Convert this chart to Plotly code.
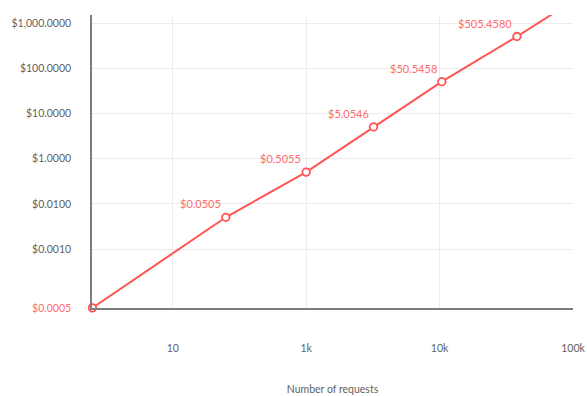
import math
import plotly.graph_objects as go

# Cost of a request volume (log-log), with priced checkpoints
requests = [25, 250, 1000, 3200, 10400, 38000]
cost = [0.0005, 0.0505, 0.5055, 5.0546, 50.5458, 505.4580]
cost_labels = ["$0.0505", "$0.5055", "$5.0546", "$50.5458", "$505.4580"]

# The cost curve keeps rising past the last checkpoint
tail_requests = [38000, 130000]
tail_cost = [505.4580, 5054.58]

x_tickvals = [100, 1000, 10000, 100000]
x_ticktext = ["10", "1k", "10k", "100k"]
y_tickvals = [0.0005, 0.01, 0.1, 1, 10, 100, 1000]
y_ticktext = ["$0.0005", "$0.0010", "$0.0100", "$1.0000",
              "$10.0000", "$100.0000", "$1,000.0000"]

RED = "#ff5450"
RED_TEXT = "#ff6b6b"
GREY_TEXT = "#5f5f5f"
FONT = "Lato, 'Open Sans', sans-serif"

fig = go.Figure()

fig.add_trace(go.Scatter(
    x=tail_requests, y=tail_cost, mode="lines",
    line=dict(color=RED, width=2), hoverinfo="skip", showlegend=False,
))
fig.add_trace(go.Scatter(
    x=requests, y=cost, mode="lines+markers",
    line=dict(color=RED, width=2),
    marker=dict(size=7.5, color="white", line=dict(color=RED, width=1.8)),
    cliponaxis=False, showlegend=False,
))

for xv, yv, txt in zip(requests[1:], cost[1:], cost_labels):
    fig.add_annotation(
        x=math.log10(xv), y=math.log10(yv), text=txt, showarrow=False,
        xanchor="right", yanchor="bottom", xshift=-3, yshift=5,
        font=dict(family=FONT, size=11, color=RED_TEXT),
    )

# the starting price is highlighted on the value axis
y_text = [f'<span style="color:{RED_TEXT}">{t}</span>' if v == cost[0] else t
          for v, t in zip(y_tickvals, y_ticktext)]

fig.update_layout(
    width=587, height=396, autosize=False,
    margin=dict(l=92, r=14, t=15, b=88, autoexpand=False),
    paper_bgcolor="white", plot_bgcolor="white",
    font=dict(family=FONT, size=11, color=GREY_TEXT),
    xaxis=dict(
        type="log", range=[math.log10(requests[0]) - 0.003, 5.0],
        tickvals=x_tickvals, ticktext=x_ticktext,
        showgrid=True, gridcolor="#ececec", gridwidth=1,
        showline=True, linecolor="#7d7d7d", linewidth=1.5,
        ticks="", ticklabelstandoff=30, zeroline=False, automargin=False,
        tickfont=dict(size=10.5, color=GREY_TEXT),
        title=dict(text="Number of requests", standoff=32,
                   font=dict(size=10.5, color=GREY_TEXT)),
    ),
    yaxis=dict(
        type="log", range=[math.log10(cost[0]) - 0.003, 3.18],
        tickvals=y_tickvals, ticktext=y_text,
        showgrid=True, gridcolor="#ececec", gridwidth=1,
        showline=True, linecolor="#7d7d7d", linewidth=1.5,
        ticks="", ticklabelstandoff=17, zeroline=False, automargin=False,
        tickfont=dict(size=10.5, color=GREY_TEXT),
    ),
)

fig.write_html("out.html")
